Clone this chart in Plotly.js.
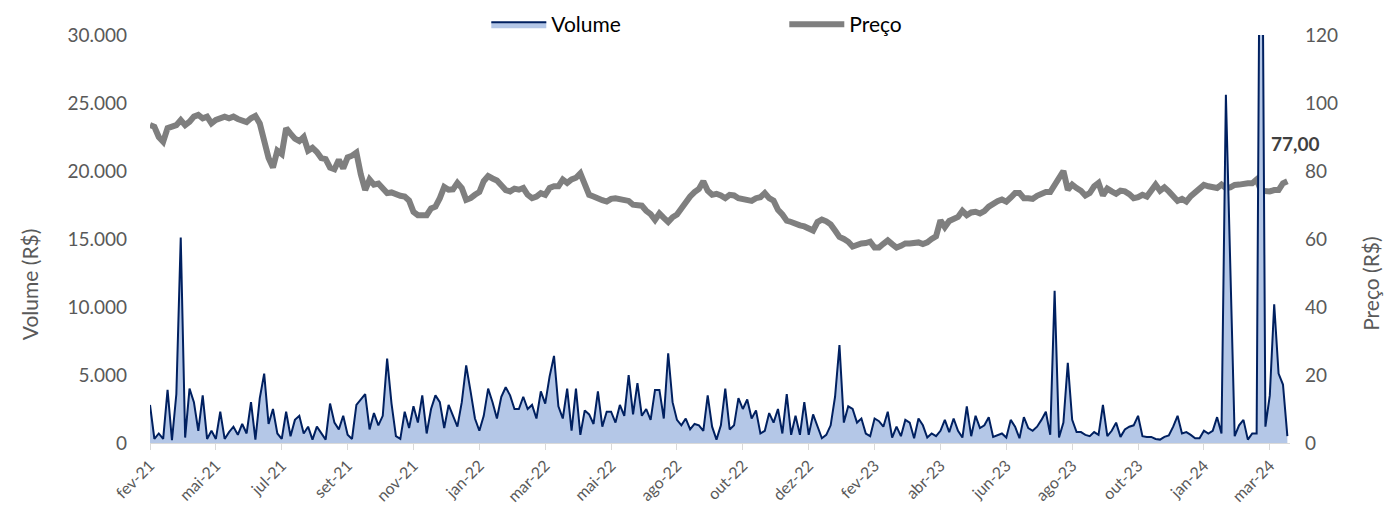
<!DOCTYPE html>
<html>
<head>
<meta charset="utf-8">
<script src="https://cdn.plot.ly/plotly-3.0.1.min.js"></script>
<style>html,body{margin:0;padding:0;background:#fff;}#chart{width:1384px;height:512px;}</style>
</head>
<body>
<div id="chart"></div>
<script>
// Tick labels (one every 15 trading-day steps)
const tickLabels = ['fev-21','mai-21','jul-21','set-21','nov-21','jan-22','mar-22','mai-22','ago-22','out-22','dez-22','fev-23','abr-23','jun-23','ago-23','out-23','jan-24','mar-24'];

// Volume (R$), one value per step 0..259
const volume = [
2800,300,700,300,3900,200,3600,15100,400,4000,
3000,900,3500,300,900,300,2300,300,800,1200,
600,1400,700,3000,250,3300,5100,1400,2500,700,
300,2300,500,1700,2000,700,1200,250,1200,700,
250,2900,1500,1000,2000,600,300,2800,3200,3600,
1000,2200,1300,2000,6200,2900,500,300,2300,1100,
2700,1500,3500,700,2500,3500,3000,1100,2800,2000,
1200,3000,5700,3800,1800,900,2000,4000,3000,1800,
3400,4100,3500,2500,2500,3400,2500,2800,1800,3800,
2900,4900,6400,2700,1800,4000,900,4000,600,2400,
2100,1400,3800,1200,2300,2300,1500,2800,2000,5000,
2100,4400,2000,2500,1700,3900,3900,1800,6600,3000,
1700,1300,1800,1000,1400,1300,900,3500,1200,250,
1300,4000,1000,1300,3300,2500,3200,1800,2400,700,
900,2200,1500,2500,700,3600,600,2000,600,3000,
600,2100,1200,350,600,1300,3400,7200,1500,2700,
2500,1500,1800,700,500,1800,1600,1200,2300,400,
1200,500,1700,1500,350,1800,1300,400,700,500,
900,1700,800,1800,900,400,2700,500,2000,1100,
1300,1900,450,550,700,400,1700,1200,350,1900,
1100,900,1200,1700,2300,600,11200,400,1500,5900,
1700,800,800,600,500,800,600,2800,500,900,
1500,450,1000,1200,1300,2000,500,450,450,300,
250,450,550,1200,2000,700,800,600,350,350,
900,700,900,1900,700,25600,12400,500,1300,1700,
250,700,700,55000,1200,3500,10200,5100,4300,500
];

// Price (R$), one value per step 0..259
const price = [
93.5,93,90,88.6,92.6,92.9,93.5,95,93.5,94.5,
96,96.5,95.5,96,94,95,95.5,96,95.5,96,
95.3,94.8,94.4,95.5,96.2,94,89,83.8,81,86,
85,92.6,91,89.5,88.8,90,86,86.8,85.6,83.8,
83.5,81,80.5,83.3,80.8,84,84.5,85.4,79,74.4,
77.5,76,76.3,75,73.5,73.7,73,72.7,72.5,71.3,
68,67,67,67,69,69.5,72,75.3,74.5,74.6,
76.5,75,71.5,72,73,73.8,77,78.5,77.8,77.2,
75.8,74.4,74,74.8,74.5,75,73,72,72.5,73.5,
73,75,75.5,75.5,77.5,76.5,77.5,78,79.3,76.5,
73,72.5,71.8,71.4,71,71.8,72,71.6,71.6,71.2,
70.1,70.1,69.8,68.3,67.3,65.6,67.5,66.2,65,66.4,
67.2,69,71,72.5,73.8,74.7,77,74.2,73,73.3,
72.8,72,73,72.8,72,71.7,71.3,71.2,72,72.3,
73.5,72,71.3,68.6,67.2,65.4,65,64.4,64,63.7,
63.3,62.5,65,65.7,65.2,64.3,62.5,60.6,60,59.2,
57.8,58.5,58.7,58.8,59.2,57.5,57.5,58.6,59.6,58.5,
57.5,58,58.7,58.7,59,59,58.5,59,60,60.8,
65.5,63.5,65.3,65.8,66.5,68.3,67,67.8,68,67.5,
68.2,69.5,70.5,71.1,71.6,71,72.2,73.5,73.5,72,
72,71.8,72.7,73.3,73.8,73.8,76,78.6,80,74.5,
76,75,74.2,72.8,73.5,75.5,76.5,72.8,74.8,74,
73.3,74.2,74,73.2,72,72.3,73,72.5,74.3,76,
74.2,75.2,74,72.5,71.2,71.8,71,72.6,73.8,74.8,
75.9,75.5,75.2,75,76,75,75.2,75.9,76,76.3,
76.4,76.4,77.5,74.2,74,74,74.4,74.4,76.4,77
];

const TICK_STEP = 15;
const steps = volume.map((_, i) => i);
const lastStep = steps[steps.length - 1];
const lastPrice = price[price.length - 1];

const FONT = 'Lato, "Open Sans", sans-serif';
const GREY_TXT = '#595959';

const traces = [
  {
    x: steps, y: volume, name: 'Volume', type: 'scatter', mode: 'lines',
    yaxis: 'y2', fill: 'tozeroy', fillcolor: '#b4c7e7',
    line: {color: '#002060', width: 2}, hoverinfo: 'skip'
  },
  {
    x: steps, y: price, name: 'Preço', type: 'scatter', mode: 'lines',
    yaxis: 'y', line: {color: '#7f7f7f', width: 6}, hoverinfo: 'skip'
  }
];

const layout = {
  width: 1384, height: 512,
  margin: {l: 150, r: 94, t: 35, b: 69, autoexpand: false},
  paper_bgcolor: '#ffffff', plot_bgcolor: '#ffffff',
  separators: ',.',
  font: {family: FONT, color: GREY_TXT, size: 19},
  showlegend: true,
  legend: {
    orientation: 'h', x: 0.295, xanchor: 'left',
    yref: 'container', y: 0.952, yanchor: 'middle',
    font: {family: FONT, size: 21, color: '#000000'},
    entrywidth: 228, entrywidthmode: 'pixels', itemwidth: 55,
    bgcolor: 'rgba(0,0,0,0)', traceorder: 'normal'
  },
  xaxis: {
    range: [0, 259.6], tickmode: 'array',
    tickvals: tickLabels.map((_, k) => k * TICK_STEP), ticktext: tickLabels,
    tickangle: -45, tickfont: {family: FONT, size: 16, color: GREY_TXT},
    ticks: 'outside', ticklen: 6, tickcolor: '#d9d9d9', tickwidth: 1,
    showline: true, linecolor: '#d9d9d9', linewidth: 1,
    showgrid: false, zeroline: false, fixedrange: true
  },
  yaxis: {
    side: 'right', range: [0, 120], dtick: 20, tickformat: ',d',
    showgrid: false, zeroline: false, showline: false, ticks: '',
    tickfont: {family: FONT, size: 19, color: GREY_TXT}, ticklabelstandoff: 14
  },
  yaxis2: {
    overlaying: 'y', side: 'left', range: [0, 30000], dtick: 5000, tickformat: ',d',
    showgrid: false, zeroline: false, showline: false, ticks: '',
    tickfont: {family: FONT, size: 19, color: GREY_TXT}, ticklabelstandoff: 22
  },
  annotations: [
    {xref: 'paper', yref: 'paper', x: -0.105, y: 0.39, text: 'Volume (R$)', showarrow: false,
     textangle: -90, font: {family: FONT, size: 21, color: GREY_TXT}, xanchor: 'center', yanchor: 'middle'},
    {xref: 'paper', yref: 'paper', x: 1.071, y: 0.39, text: 'Preço (R$)', showarrow: false,
     textangle: -90, font: {family: FONT, size: 21, color: GREY_TXT}, xanchor: 'center', yanchor: 'middle'},
    {xref: 'x', yref: 'y', x: lastStep, y: lastPrice, xshift: 8, yshift: 38,
     text: '<b>' + lastPrice.toFixed(2).replace('.', ',') + '</b>', showarrow: false,
     font: {family: FONT, size: 19, color: '#404040'}, xanchor: 'center', yanchor: 'middle'}
  ]
};

Plotly.newPlot('chart', traces, layout, {staticPlot: true, displayModeBar: false});
</script>
</body>
</html>
